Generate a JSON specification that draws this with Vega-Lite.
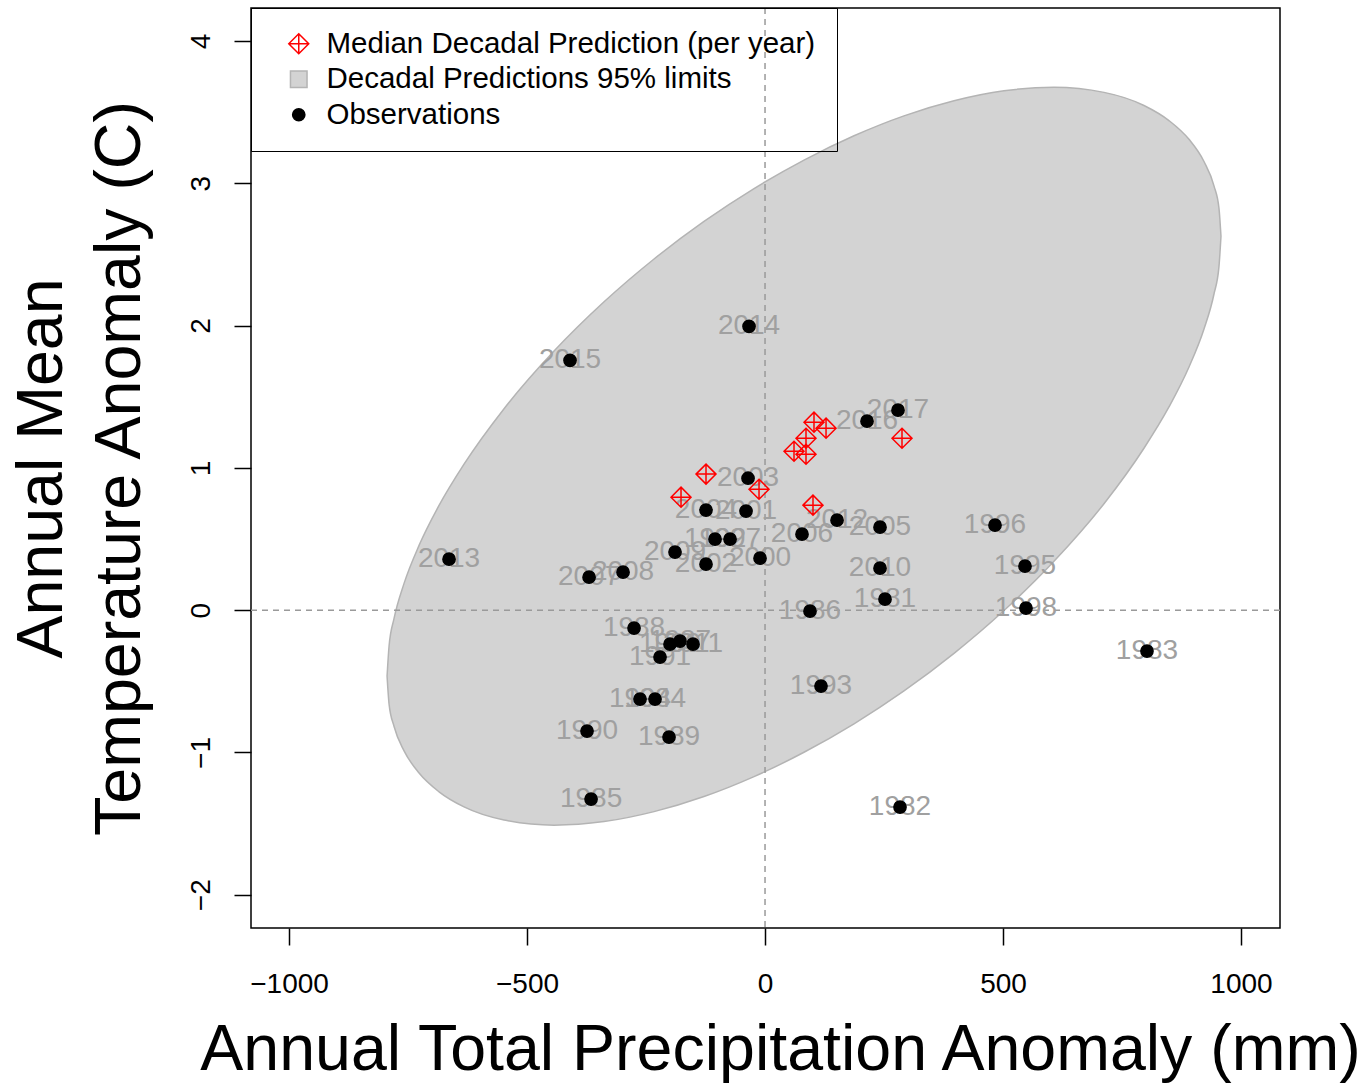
{
  "$schema": "https://vega.github.io/schema/vega-lite/v6.json",
  "width": 1029,
  "height": 920,
  "autosize": {"type": "none"},
  "padding": {"left": 251, "top": 8, "right": 86, "bottom": 155},
  "background": "white",
  "config": {
    "view": {"stroke": "black", "strokeWidth": 1.5},
    "font": "Liberation Sans",
    "axis": {
      "grid": false,
      "domain": false,
      "tickColor": "black",
      "tickWidth": 1.5,
      "tickSize": 17,
      "labelFont": "Liberation Sans",
      "labelFontSize": 28,
      "labelColor": "black",
      "titleFont": "Liberation Sans",
      "titleFontSize": 64.5,
      "titleFontWeight": "normal",
      "titleColor": "black"
    }
  },
  "datasets": {
    "ellipse": [
      {"p": -794.1, "hi": -0.464, "lo": -0.464},
      {"p": -789.9, "hi": -0.252, "lo": -0.66},
      {"p": -779.4, "hi": -0.058, "lo": -0.818},
      {"p": -758.4, "hi": 0.188, "lo": -0.989},
      {"p": -726.9, "hi": 0.455, "lo": -1.145},
      {"p": -684.9, "hi": 0.736, "lo": -1.277},
      {"p": -632.4, "hi": 1.026, "lo": -1.383},
      {"p": -548.3, "hi": 1.416, "lo": -1.475},
      {"p": -443.3, "hi": 1.821, "lo": -1.511},
      {"p": -338.2, "hi": 2.167, "lo": -1.486},
      {"p": -233.2, "hi": 2.468, "lo": -1.416},
      {"p": -128.2, "hi": 2.732, "lo": -1.31},
      {"p": -23.1, "hi": 2.963, "lo": -1.17},
      {"p": 81.9, "hi": 3.163, "lo": -0.999},
      {"p": 187.0, "hi": 3.334, "lo": -0.799},
      {"p": 292.0, "hi": 3.474, "lo": -0.568},
      {"p": 397.1, "hi": 3.58, "lo": -0.304},
      {"p": 502.1, "hi": 3.65, "lo": -0.003},
      {"p": 607.1, "hi": 3.675, "lo": 0.343},
      {"p": 712.2, "hi": 3.639, "lo": 0.748},
      {"p": 796.2, "hi": 3.547, "lo": 1.138},
      {"p": 848.7, "hi": 3.441, "lo": 1.428},
      {"p": 890.8, "hi": 3.309, "lo": 1.709},
      {"p": 922.3, "hi": 3.153, "lo": 1.976},
      {"p": 943.3, "hi": 2.982, "lo": 2.222},
      {"p": 953.8, "hi": 2.824, "lo": 2.416},
      {"p": 958.0, "hi": 2.628, "lo": 2.628}
    ],
    "obs": [
      {"year": "1981", "p": 252.1, "t": 0.077},
      {"year": "1982", "p": 283.6, "t": -1.384},
      {"year": "1983", "p": 802.5, "t": -0.288},
      {"year": "1984", "p": -231.1, "t": -0.625},
      {"year": "1985", "p": -365.5, "t": -1.328},
      {"year": "1986", "p": 94.5, "t": -0.007},
      {"year": "1987", "p": -178.6, "t": -0.218},
      {"year": "1988", "p": -275.2, "t": -0.126},
      {"year": "1989", "p": -201.7, "t": -0.892},
      {"year": "1990", "p": -374.0, "t": -0.85},
      {"year": "1991", "p": -220.6, "t": -0.33},
      {"year": "1992", "p": -105.0, "t": 0.499},
      {"year": "1993", "p": 117.6, "t": -0.534},
      {"year": "1994", "p": -262.6, "t": -0.625},
      {"year": "1995", "p": 546.2, "t": 0.309},
      {"year": "1996", "p": 483.2, "t": 0.597},
      {"year": "1997", "p": -73.5, "t": 0.499},
      {"year": "1998", "p": 548.3, "t": 0.014},
      {"year": "1999", "p": -199.6, "t": -0.239},
      {"year": "2000", "p": -10.5, "t": 0.365},
      {"year": "2001", "p": -39.9, "t": 0.696},
      {"year": "2002", "p": -124.0, "t": 0.323},
      {"year": "2003", "p": -35.7, "t": 0.927},
      {"year": "2004", "p": -124.0, "t": 0.703},
      {"year": "2005", "p": 241.6, "t": 0.583},
      {"year": "2006", "p": 77.7, "t": 0.534},
      {"year": "2007", "p": -369.7, "t": 0.232},
      {"year": "2008", "p": -298.3, "t": 0.267},
      {"year": "2009", "p": -189.1, "t": 0.408},
      {"year": "2010", "p": 241.6, "t": 0.295},
      {"year": "2011", "p": -151.3, "t": -0.239},
      {"year": "2012", "p": 151.3, "t": 0.632},
      {"year": "2013", "p": -663.9, "t": 0.358},
      {"year": "2014", "p": -33.6, "t": 1.995},
      {"year": "2015", "p": -409.7, "t": 1.756},
      {"year": "2016", "p": 214.3, "t": 1.328},
      {"year": "2017", "p": 279.4, "t": 1.405}
    ],
    "pred": [
      {"p": 102.9, "t": 1.321},
      {"p": 128.2, "t": 1.279},
      {"p": 86.1, "t": 1.208},
      {"p": 60.9, "t": 1.117},
      {"p": 86.1, "t": 1.096},
      {"p": 287.8, "t": 1.208},
      {"p": -124.0, "t": 0.956},
      {"p": -12.6, "t": 0.85},
      {"p": -176.5, "t": 0.794},
      {"p": 100.8, "t": 0.738}
    ],
    "zero": [{"v": 0}]
  },
  "encoding": {
    "x": {
      "type": "quantitative",
      "scale": {"domain": [-1080, 1082], "nice": false, "zero": false},
      "axis": {
        "values": [-1000, -500, 0, 500, 1000],
        "format": "d",
        "labelPadding": 25,
        "title": "Annual Total Precipitation Anomaly (mm)",
        "titleX": 529,
        "titleY": 141,
        "titleAlign": "center",
        "titleBaseline": "alphabetic"
      }
    },
    "y": {
      "type": "quantitative",
      "scale": {"domain": [-2.234, 4.232], "nice": false, "zero": false},
      "axis": {
        "values": [-2, -1, 0, 1, 2, 3, 4],
        "format": "d",
        "labelAngle": -90,
        "labelAlign": "center",
        "labelBaseline": "bottom",
        "labelPadding": 19,
        "title": ["Annual Mean", "Temperature Anomaly (C)"],
        "titleAngle": -90,
        "titleX": -209,
        "titleY": 460,
        "titleAlign": "center",
        "titleBaseline": "middle",
        "titleLineHeight": 78
      }
    }
  },
  "layer": [
    {
      "data": {"name": "ellipse"},
      "mark": {"type": "area", "fill": "#d3d3d3", "stroke": "#b4b4b4", "strokeWidth": 1.5, "interpolate": "monotone", "fillOpacity": 1},
      "encoding": {
        "x": {"field": "p"},
        "y": {"field": "hi"},
        "y2": {"field": "lo"}
      }
    },
    {
      "data": {"name": "zero"},
      "mark": {"type": "rule", "color": "#9a9a9a", "strokeWidth": 1.5, "strokeDash": [6, 5]},
      "encoding": {"x": {"field": "v"}, "y": null}
    },
    {
      "data": {"name": "zero"},
      "mark": {"type": "rule", "color": "#9a9a9a", "strokeWidth": 1.5, "strokeDash": [6, 5]},
      "encoding": {"y": {"field": "v"}, "x": null}
    },
    {
      "data": {"name": "obs"},
      "mark": {"type": "text", "fontSize": 28, "color": "#a0a0a0", "align": "center", "baseline": "middle", "font": "Liberation Sans"},
      "encoding": {
        "x": {"field": "p"},
        "y": {"field": "t"},
        "text": {"field": "year"}
      }
    },
    {
      "data": {"name": "pred"},
      "mark": {"type": "point", "strokeWidth": 1.5, "opacity": 1},
      "encoding": {
        "x": {"field": "p"},
        "y": {"field": "t"},
        "shape": {"datum": "Median Decadal Prediction (per year)"},
        "fill": {"datum": "Median Decadal Prediction (per year)"},
        "stroke": {"datum": "Median Decadal Prediction (per year)"},
        "size": {"datum": "Median Decadal Prediction (per year)", "type": "ordinal"}
      }
    },
    {
      "data": {"name": "obs"},
      "mark": {"type": "point", "strokeWidth": 1.5, "opacity": 1},
      "encoding": {
        "x": {"field": "p"},
        "y": {"field": "t"},
        "shape": {
          "datum": "Observations",
          "type": "nominal",
          "scale": {
            "domain": ["Median Decadal Prediction (per year)", "Decadal Predictions 95% limits", "Observations"],
            "range": ["M-1,0L0,-1L1,0L0,1Z M-1,0L1,0 M0,-1L0,1", "square", "circle"]
          },
          "legend": {
            "orient": "none",
            "legendX": 0,
            "legendY": 0,
            "direction": "vertical",
            "title": null,
            "padding": 21,
            "strokeColor": "black",
            "fillColor": "transparent",
            "labelFont": "Liberation Sans",
            "labelFontSize": 29.5,
            "labelColor": "black",
            "labelLimit": 800,
            "symbolOffset": 12,
            "labelOffset": 13,
            "rowPadding": 4.5,
            "symbolStrokeWidth": 1.5
          }
        },
        "fill": {
          "datum": "Observations",
          "type": "nominal",
          "scale": {
            "domain": ["Median Decadal Prediction (per year)", "Decadal Predictions 95% limits", "Observations"],
            "range": ["transparent", "#d3d3d3", "black"]
          }
        },
        "stroke": {
          "datum": "Observations",
          "type": "nominal",
          "scale": {
            "domain": ["Median Decadal Prediction (per year)", "Decadal Predictions 95% limits", "Observations"],
            "range": ["#ff0000", "#b4b4b4", "black"]
          }
        },
        "size": {
          "datum": "Observations",
          "type": "ordinal",
          "scale": {
            "domain": ["Median Decadal Prediction (per year)", "Decadal Predictions 95% limits", "Observations"],
            "range": [400, 150],
            "padding": 0
          }
        }
      }
    }
  ]
}
